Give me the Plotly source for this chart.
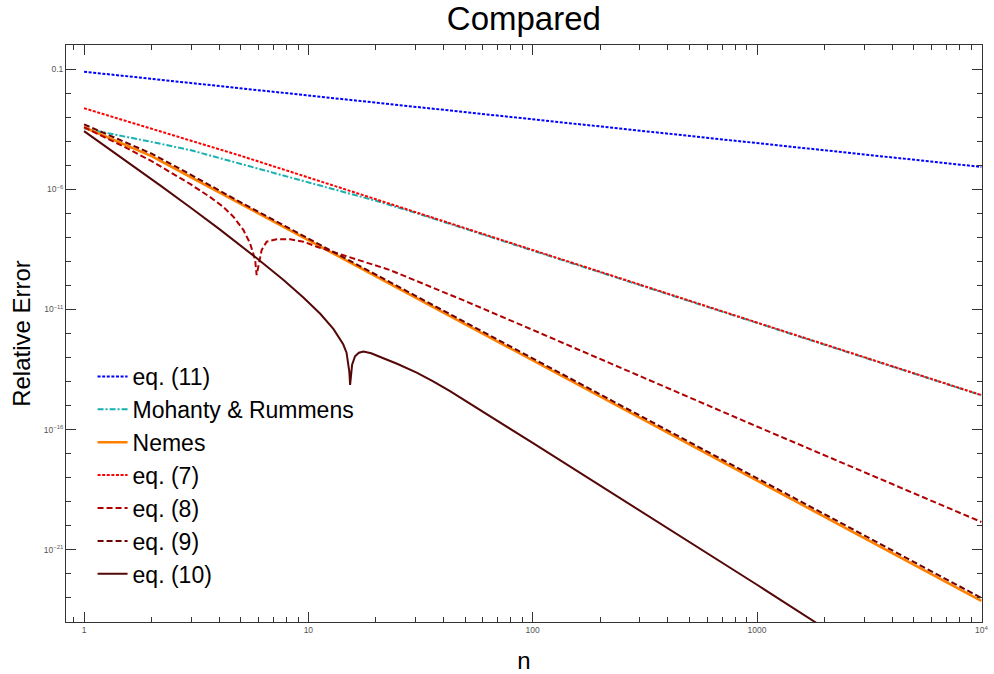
import numpy as np
import plotly.graph_objects as go

# ---- relative error curves (log10 of the error) versus n ----
n_eq11 = [1, 10, 100, 1000, 10000]
log_eq11 = [-1.11, -2.10, -3.09, -4.08, -5.07]

n_mr = [1, 1.5, 2, 3, 5, 10, 20, 30, 50, 100, 1000, 10000]
log_mr = [-3.47, -3.78, -4.03, -4.38, -4.95, -5.71, -6.48, -6.98, -7.64, -8.55, -11.56, -14.57]

n_nemes = [1, 2, 3, 5, 10, 20, 100, 1000, 10000]
log_nemes = [-3.42, -4.62, -5.50, -6.61, -8.10, -9.60, -13.10, -18.10, -23.12]

n_eq7 = [1, 2, 3, 5, 10, 20, 50, 100, 1000, 10000]
log_eq7 = [-2.63, -3.47, -3.96, -4.61, -5.51, -6.42, -7.62, -8.53, -11.55, -14.56]

n_eq8 = [1, 1.5, 2, 2.97, 3.64, 4.17, 4.63, 5.13, 5.5, 5.79, 5.88, 5.98, 6.19, 6.52,
         7.22, 8.3, 9.5, 10.9, 15, 23.1, 50, 100, 1000, 10000]
log_eq8 = [-3.42, -4.22, -4.83, -5.78, -6.32, -6.73, -7.14, -7.69, -8.25, -8.94, -9.57,
           -9.22, -8.53, -8.18, -8.08, -8.08, -8.18, -8.39, -8.80, -9.36, -10.65,
           -11.85, -15.87, -19.84]

n_eq9 = [1, 2, 3, 5, 10, 20, 100, 1000, 10000]
log_eq9 = [-3.30, -4.52, -5.40, -6.55, -8.05, -9.55, -13.05, -18.05, -23.00]

n_eq10 = [1, 1.5, 2.2, 2.97, 4, 5.89, 7.75, 9.5, 11.3, 12.95, 14.3, 14.8, 15.07,
          15.23, 15.35, 15.48, 15.67, 16.14, 16.8, 17.6, 19.05, 21.6, 25, 30.4, 36,
          42.8, 60, 100, 1000, 10000]
log_eq10 = [-3.58, -4.74, -5.86, -6.75, -7.65, -8.87, -9.77, -10.50, -11.18, -11.82,
            -12.45, -12.80, -13.20, -13.60, -14.14, -13.60, -13.30, -12.95, -12.80,
            -12.75, -12.82, -13.03, -13.27, -13.63, -13.99, -14.40, -15.26, -16.55,
            -22.45, -28.45]

# ---- axis ticks ----
x_major = [1, 10, 100, 1000, 10000]
x_major_text = ["1", "10", "100", "1000", "10<sup>4</sup>"]
x_minor = [0.9] + [m * 10 ** k for k in range(4) for m in range(2, 10)]

y_major = [1e-1, 1e-6, 1e-11, 1e-16, 1e-21]
y_major_text = ["0.1", "10<sup>\u22126</sup>", "10<sup>\u221211</sup>",
                "10<sup>\u221216</sup>", "10<sup>\u221221</sup>"]
y_minor = [10.0 ** (-k) for k in range(0, 25)]

series = [
    ("eq. (11)", n_eq11, log_eq11, "#0000ff", "3px,1.6px", 2.0),
    ("Mohanty &amp; Rummens", n_mr, log_mr, "#1ab0b0", "6px,2px,2px,2px", 2.0),
    ("Nemes", n_nemes, log_nemes, "#ff8000", "solid", 2.6),
    ("eq. (7)", n_eq7, log_eq7, "#ff0000", "3px,1.6px", 2.0),
    ("eq. (8)", n_eq8, log_eq8, "#b00000", "6px,3px", 2.0),
    ("eq. (9)", n_eq9, log_eq9, "#6e0000", "6px,3px", 2.0),
    ("eq. (10)", n_eq10, log_eq10, "#550808", "solid", 2.0),
]

fig = go.Figure()
for name, nx, ly, color, dash, width in series:
    fig.add_trace(go.Scatter(
        x=nx, y=10.0 ** np.array(ly), mode="lines", name=name,
        line=dict(color=color, dash=dash, width=width),
    ))

FONT = "Liberation Sans, Arial, Helvetica, sans-serif"
tick_font = dict(family=FONT, size=8.5, color="#555555")

fig.update_layout(
    width=994, height=674,
    margin=dict(l=66, r=12, t=45, b=52),
    paper_bgcolor="white", plot_bgcolor="white",
    font=dict(family=FONT, color="black"),
    title=dict(text="Compared", x=0.527, xanchor="center", y=0.972, yanchor="middle",
               font=dict(size=33, family=FONT, color="black")),
    showlegend=True,
    legend=dict(x=0.029, y=0.254, xanchor="left", yanchor="middle",
                bgcolor="rgba(0,0,0,0)", font=dict(size=23, family=FONT, color="black"),
                itemwidth=30, tracegroupgap=0),
)

fig.update_xaxes(
    type="log", range=[np.log10(0.831), 4.003], automargin=False,
    tickmode="array", tickvals=x_major, ticktext=x_major_text, tickfont=tick_font,
    ticks="inside", ticklen=10, tickwidth=1, tickcolor="#333333",
    minor=dict(tickmode="array", tickvals=x_minor, ticks="inside", ticklen=5,
               tickwidth=1, tickcolor="#333333", showgrid=False),
    showline=True, linecolor="#333333", linewidth=1, mirror="ticks",
    showgrid=False, zeroline=False,
    title=dict(text="n", font=dict(size=24, family=FONT, color="black"), standoff=22),
)
fig.update_yaxes(
    type="log", range=[-24, 0], automargin=False,
    tickmode="array", tickvals=y_major, ticktext=y_major_text, tickfont=tick_font,
    ticks="inside", ticklen=10, tickwidth=1, tickcolor="#333333",
    minor=dict(tickmode="array", tickvals=y_minor, ticks="inside", ticklen=5,
               tickwidth=1, tickcolor="#333333", showgrid=False),
    showline=True, linecolor="#333333", linewidth=1, mirror="ticks",
    showgrid=False, zeroline=False,
    title=dict(text="Relative Error", font=dict(size=24, family=FONT, color="black"),
               standoff=6),
)

fig.write_html("out.html")
